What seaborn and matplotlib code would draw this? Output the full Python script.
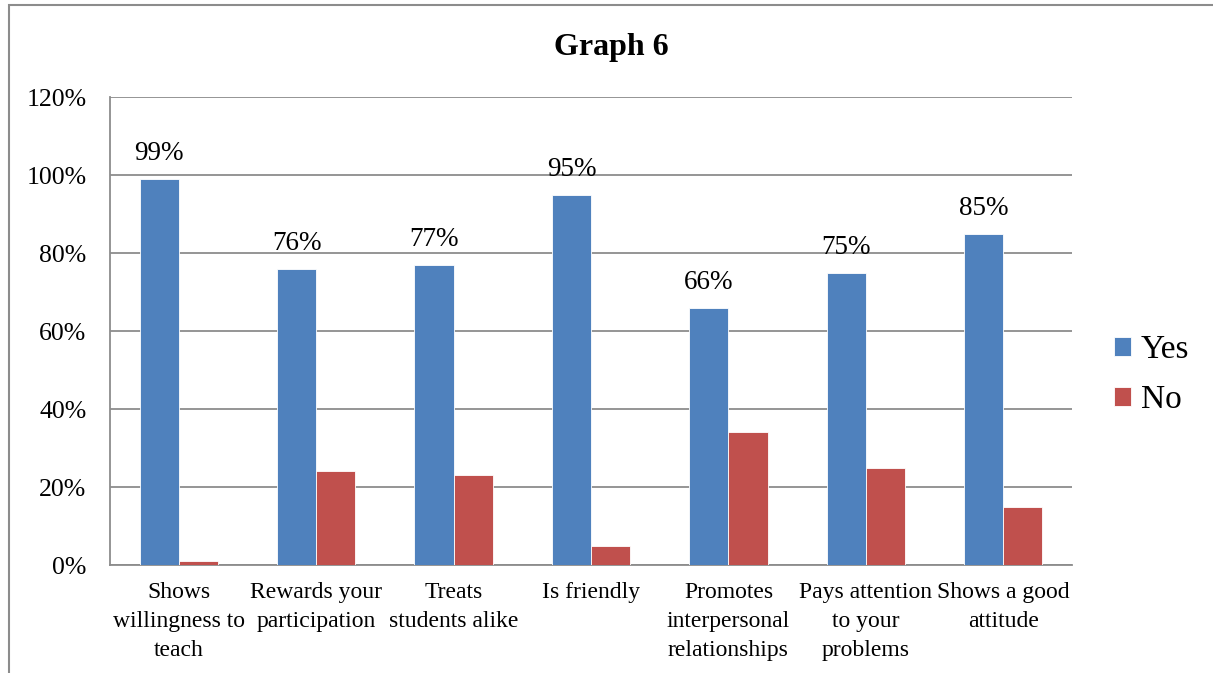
import matplotlib
matplotlib.use("Agg")
import matplotlib.pyplot as plt
from matplotlib.patches import Rectangle
from matplotlib.ticker import FuncFormatter
import seaborn as sns
import pandas as pd

categories = [
    "Shows\nwillingness to\nteach",
    "Rewards your\nparticipation",
    "Treats\nstudents alike",
    "Is friendly",
    "Promotes\ninterpersonal\nrelationships",
    "Pays attention\nto your\nproblems",
    "Shows a good\nattitude",
]
yes_values = [99, 76, 77, 95, 66, 75, 85]
no_values = [1, 24, 23, 5, 34, 25, 15]
series = ["Yes", "No"]
y_ticks = [0, 20, 40, 60, 80, 100, 120]

df = pd.DataFrame({
    "category": categories * 2,
    "answer": ["Yes"] * len(categories) + ["No"] * len(categories),
    "value": yes_values + no_values,
})

sns.set_theme(style="white")
plt.rcParams["font.family"] = ["Liberation Serif", "DejaVu Serif"]
plt.rcParams["text.color"] = "black"
plt.rcParams["xtick.color"] = "black"
plt.rcParams["ytick.color"] = "black"

grid_gray = "#8c8c8c"
palette = {"Yes": "#4F81BD", "No": "#C0504D"}

fig = plt.figure(figsize=(12.13, 6.73), dpi=100)
ax = fig.add_axes([110 / 1213, 1 - 565 / 673, (1072 - 110) / 1213, (565 - 97) / 673])

sns.barplot(
    data=df, x="category", y="value", hue="answer", hue_order=series,
    palette=palette, width=0.57, ax=ax, edgecolor="white", linewidth=0.6,
    saturation=1, errorbar=None, zorder=3,
)

# value labels above the "Yes" bars
yes_container = ax.containers[0]
for bar, v in zip(yes_container, yes_values):
    ax.text(bar.get_x() + bar.get_width() / 2, v + 3.2, f"{v}%",
            ha="center", va="bottom", fontsize=19.5, color="black")

ax.set_xlim(-0.5, len(categories) - 0.5)
ax.set_ylim(0, 120)
ax.set_yticks(y_ticks)
ax.yaxis.set_major_formatter(FuncFormatter(lambda v, p: f"{v:.0f}%"))
ax.grid(axis="y", color=grid_gray, linewidth=1.3, zorder=0)
ax.set_axisbelow(True)
ax.set_xlabel("")
ax.set_ylabel("")
ax.tick_params(axis="y", labelsize=18.5, pad=17, length=0, colors="black")
ax.tick_params(axis="x", labelsize=17, pad=12, length=0, colors="black")
for lbl in ax.get_xticklabels():
    lbl.set_linespacing(1.5)

for side in ["top", "right"]:
    ax.spines[side].set_visible(False)
for side in ["left", "bottom"]:
    ax.spines[side].set_color(grid_gray)
    ax.spines[side].set_linewidth(1.3)

# legend to the right of the plot area
handles, labels = ax.get_legend_handles_labels()
ax.legend(handles, labels, loc="center left", bbox_to_anchor=(1114 / 1213, 1 - 375 / 673),
          bbox_transform=fig.transFigure, frameon=False, fontsize=24,
          handlelength=0.5, handleheight=0.5, handletextpad=0.3, labelspacing=0.6,
          borderpad=0, borderaxespad=0)

fig.text(611 / 1213, 1 - 47 / 673, "Graph 6", ha="center", va="center",
         fontsize=23, fontweight="bold", color="black")

# outer chart border
fig.patches.append(Rectangle((9 / 1213, -0.1), 1.2, 1 - 5 / 673 + 0.1,
                             transform=fig.transFigure, fill=False,
                             edgecolor=grid_gray, linewidth=1.5))

fig.savefig("out.png", dpi=100)
